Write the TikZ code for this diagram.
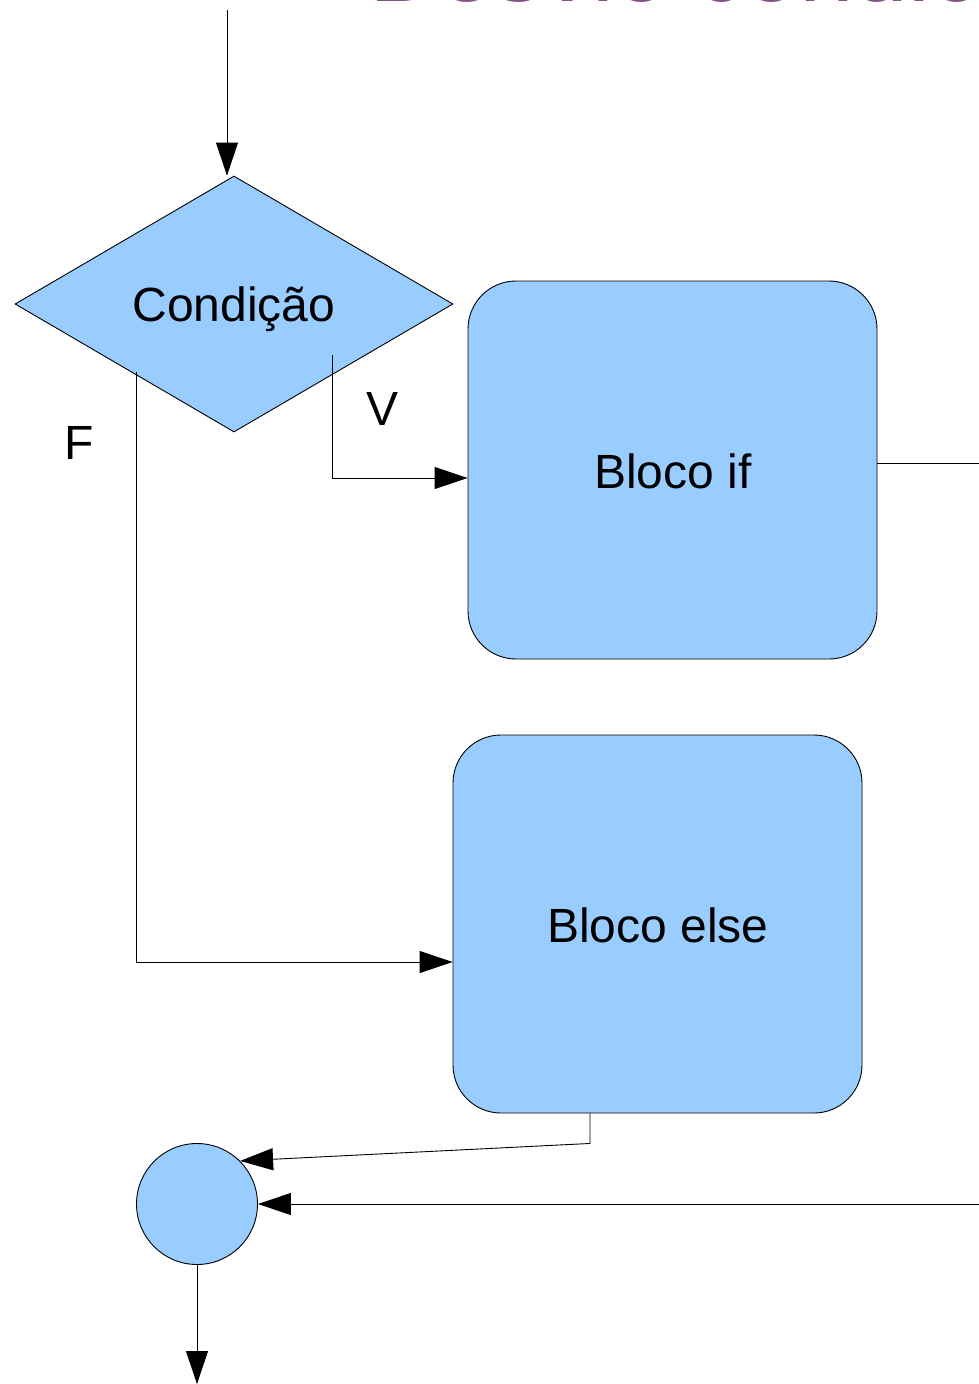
\documentclass[tikz,border=0pt]{standalone}
\usepackage{fontspec}
\setmainfont{Liberation Sans}
\usetikzlibrary{shapes.geometric,arrows.meta,calc}
\definecolor{boxblue}{HTML}{99CCFF}
\definecolor{titlepurple}{RGB}{131,80,131}
\tikzset{
  shapebox/.style={draw=black, fill=boxblue, line width=0.9pt},
  lbl/.style={font=\fontsize{48}{58}\selectfont, inner sep=0pt},
  arr/.style={draw=black, line width=0.9pt, -{Triangle[length=33pt,width=22pt]}}
}
\begin{document}
\begin{tikzpicture}[x=1pt,y=-1pt]
\path[use as bounding box, clip] (0,0) rectangle (979,1384);
\fill[white] (0,0) rectangle (979,1384);
% cut-off title
\node[anchor=base west, inner sep=0pt, text=titlepurple, font=\fontsize{98}{110}\selectfont] (title) at (369,1.5) {Desvio condicional};
% nodes
\node[shapebox, diamond, aspect=1.71, minimum width=438pt, minimum height=256pt, inner sep=0pt] (cond) at (234,304) {};
\node[lbl] (condtxt) at (234,309) {Condição};
\node[shapebox, rounded corners=48pt, minimum width=409pt, minimum height=378pt] (ifbox) at (672.5,470) {};
\node[lbl] (iftxt) at (673,471) {Bloco if};
\node[shapebox, rounded corners=48pt, minimum width=409pt, minimum height=378pt] (elsebox) at (657.5,924) {};
\node[lbl] (elsetxt) at (658,925) {Bloco else};
\node[shapebox, circle, minimum size=121pt, inner sep=0pt] (circ) at (197,1204) {};
\node[lbl] (vlbl) at (383,409) {V};
\node[lbl] (flbl) at (79,443) {F};
% coordinates
\coordinate (topstart) at (227,10);
\coordinate (vstart) at (332,355);
\coordinate (fstart) at (136,372);
\coordinate (bottomend) at (197,1384);
% connectors
\draw[arr] (topstart) -- (topstart |- cond.north);
\draw[arr] (vstart) |- ([yshift=-8pt]ifbox.west);
\draw[arr] (fstart) |- ([yshift=-38pt]elsebox.west);
\draw[arr] ([xshift=-67.5pt]elsebox.south) -- ++(0,30) -- (circ.45);
\draw[arr] ([yshift=7pt]ifbox.east) -- ++(150,0) |- (circ.east);
\draw[arr] (circ.south) -- (bottomend);
\end{tikzpicture}
\end{document}
